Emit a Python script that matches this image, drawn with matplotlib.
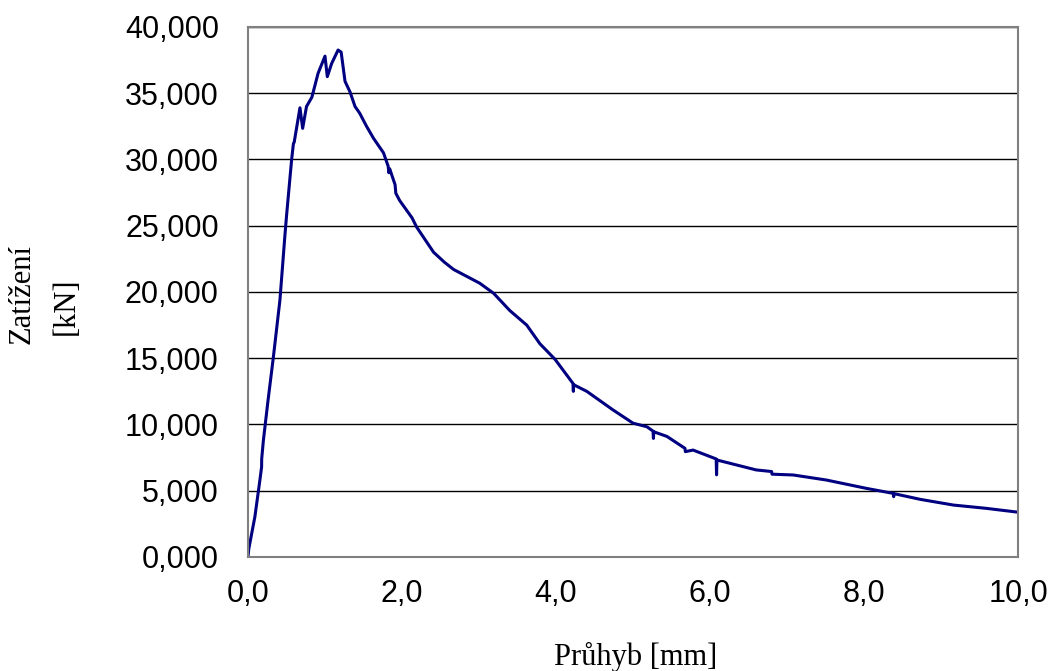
import matplotlib
matplotlib.use("Agg")
import matplotlib.pyplot as plt
from matplotlib.ticker import FuncFormatter

# Load-deflection record (deflection in mm, load in N)
deflection_mm = [
    0.00, 0.01, 0.09, 0.15, 0.177, 0.178, 0.20, 0.26, 0.33, 0.415, 0.48, 0.50, 0.52,
    0.567, 0.59, 0.60, 0.675, 0.71, 0.76, 0.83, 0.91, 1.00, 1.03, 1.087,
    1.17, 1.21, 1.26, 1.325, 1.39, 1.45, 1.54, 1.63, 1.76, 1.82, 1.83, 1.84, 1.91,
    1.92, 1.97, 2.13, 2.19, 2.41, 2.55, 2.67, 2.85, 3.01, 3.19, 3.40, 3.62, 3.79, 3.99,
    4.22, 4.225, 4.23, 4.40, 4.74, 5.00, 5.18, 5.26, 5.265, 5.27, 5.44, 5.675,
    5.68, 5.78, 6.08, 6.085, 6.09, 6.60, 6.8, 6.805, 7.08, 7.51, 8.03, 8.38, 8.385,
    8.39, 8.73, 9.16, 9.59, 10.00,
]
load_n = [
    0, 600, 3050, 5600, 6800, 7400, 8800, 11800, 15100, 19400, 24300, 25700, 27000,
    30000, 31200, 31300, 33900, 32350, 34000, 34700, 36500, 37800, 36250, 37250,
    38260, 38100, 35900, 35100, 34000, 33500, 32500, 31600, 30500, 29500, 29000, 29300, 28100,
    27450, 26900, 25600, 24900, 23000, 22250, 21700, 21150, 20660, 19900, 18600, 17500, 16100, 14900,
    13100, 12500, 13000, 12500, 11100, 10100, 9830, 9500, 8950, 9450, 9100, 8200,
    7950, 8070, 7400, 6200, 7320, 6570, 6450, 6250, 6190, 5810, 5180, 4800, 4550,
    4780, 4350, 3920, 3670, 3380,
]

x_ticks = [0, 2, 4, 6, 8, 10]
y_ticks = [0, 5000, 10000, 15000, 20000, 25000, 30000, 35000, 40000]

fig = plt.figure(figsize=(10.53, 6.71), dpi=100)
ax = fig.add_axes([0.2355, 0.1699, 0.9668 - 0.2355, 0.9598 - 0.1699])

ax.plot(deflection_mm, load_n, color="#000080", linewidth=2.2,
        solid_joinstyle="round", solid_capstyle="round")

ax.set_xlim(0, 10)
ax.set_ylim(0, 40000)
ax.set_xticks(x_ticks)
ax.set_yticks(y_ticks)

ax.xaxis.set_major_formatter(FuncFormatter(lambda v, p: f"{v:.1f}".replace(".", ",")))
ax.yaxis.set_major_formatter(FuncFormatter(lambda v, p: f"{v/1000:.3f}".replace(".", ",")))

ax.grid(axis="y", color="black", linewidth=1.0)
ax.set_axisbelow(True)
for side in ["left", "right", "bottom", "top"]:
    ax.spines[side].set_color("#808080")
    ax.spines[side].set_linewidth(1.5)

ax.tick_params(axis="both", length=0, labelsize=22)
ax.tick_params(axis="y", pad=21)
ax.tick_params(axis="x", pad=16)
for lbl in ax.get_xticklabels() + ax.get_yticklabels():
    lbl.set_family("Liberation Sans")

fig.text(0.604, 0.009, "Průhyb [mm]", family="Liberation Serif", fontsize=22,
         ha="center", va="baseline")
fig.text(0.021, 0.5618, "Zatížení", family="Liberation Serif", fontsize=22,
         ha="center", va="center", rotation=90)
fig.text(0.0627, 0.544, "[kN]", family="Liberation Serif", fontsize=22,
         ha="center", va="center", rotation=90)

fig.savefig("out.png", dpi=100, facecolor="white")
